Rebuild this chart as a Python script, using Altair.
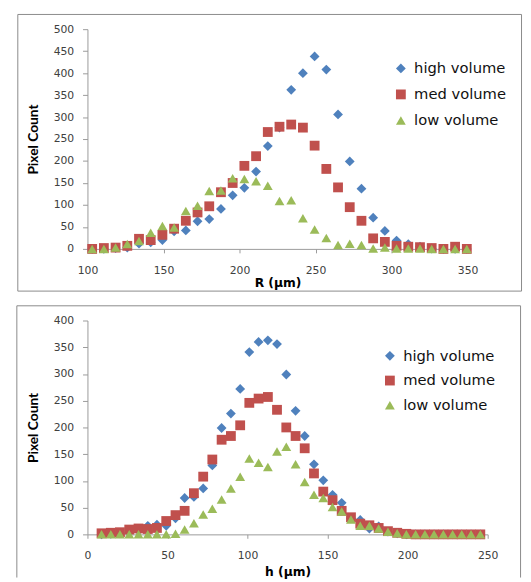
import altair as alt
import pandas as pd

SERIES = ["high volume", "med volume", "low volume"]
COLORS = ["#4F81BD", "#C0504D", "#9BBB59"]
SHAPES = ["diamond", "square", "triangle-up"]

# ---- top panel: R (µm) ----
R_UM = [103.1, 110.8, 118.5, 126.2, 133.9, 141.6, 149.3, 157.0, 164.7, 172.4, 180.1,
        187.8, 195.5, 203.2, 210.9, 218.6, 226.3, 234.0, 241.7, 249.4, 257.1, 264.8,
        272.5, 280.2, 287.9, 295.6, 303.3, 311.0, 318.7, 326.4, 334.1, 341.8, 349.5]
R_HIGH = [0, 0, 2, 3, 12, 15, 20, 40, 42, 63, 68, 91, 122, 139, 176, 234, 276, 362, 400,
          438, 408, 306, 199, 137, 71, 41, 19, 11, 5, 1, 0, 0, 0]
R_MED = [0, 2, 3, 7, 23, 20, 32, 46, 64, 83, 97, 129, 150, 189, 211, 266, 278, 283, 276,
         235, 182, 140, 95, 64, 24, 16, 7, 5, 4, 2, 0, 5, 0]
R_LOW = [0, 0, 3, 11, 18, 37, 52, 49, 86, 98, 132, 133, 161, 159, 154, 144, 109, 111, 70,
         44, 25, 9, 12, 9, 1, 3, 1, 1, 1, 0, 0, 0, 0]
R_TICKS = [100, 150, 200, 250, 300, 350]
R_COUNT_TICKS = [0, 50, 100, 150, 200, 250, 300, 350, 400, 450, 500]

# ---- bottom panel: h (µm) ----
H_UM = [8.8, 14.6, 20.3, 26.1, 31.9, 37.7, 43.4, 49.2, 55.0, 60.7, 66.5, 72.3, 78.0, 83.8,
        89.6, 95.4, 101.1, 106.9, 112.7, 118.4, 124.2, 130.0, 135.7, 141.5, 147.3, 153.1,
        158.8, 164.6, 170.4, 176.1, 181.9, 187.7, 193.5, 199.2, 205.0, 210.8, 216.5,
        222.3, 228.1, 233.8, 239.6, 245.4]
H_HIGH = [0, 1, 2, 4, 7, 16, 18, 16, 30, 68, 70, 86, 129, 199, 226, 272, 341, 360, 363,
          356, 299, 231, 184, 131, 101, 74, 59, 30, 27, 11, 15, 5, 2, 0, 0, 0, 0, 0, 0,
          0, 0, 0]
H_MED = [2, 3, 4, 9, 11, 10, 12, 25, 36, 44, 77, 108, 140, 177, 184, 204, 246, 254, 257,
         233, 200, 184, 161, 114, 80, 64, 44, 32, 20, 17, 12, 6, 3, 1, 0, 0, 0, 0, 0, 0,
         0, 0]
H_LOW = [0, 0, 0, 0, 0, 0, 0, 0, 1, 9, 21, 37, 48, 65, 86, 108, 142, 134, 126, 155, 164,
         131, 98, 74, 68, 51, 43, 28, 16, 16, 11, 5, 2, 0, 0, 0, 0, 0, 0, 0, 0, 0]
H_TICKS = [0, 50, 100, 150, 200, 250]
H_COUNT_TICKS = [0, 50, 100, 150, 200, 250, 300, 350, 400]

FONT = "DejaVu Sans"
AXIS_GRAY = "#9a9a9a"
FRAME_GRAY = "#8a8a8a"


def long_table(xs, groups):
    rows = []
    for name, ys in zip(SERIES, groups):
        for x, y in zip(xs, ys):
            rows.append({"x": x, "count": y, "series": name})
    return pd.DataFrame(rows)


def panel(df, xdom, ydom, xticks, yticks, xtitle, w, h, ytx, xty, lx, ly, rowpad, frame):
    legend = alt.Legend(
        orient="none", legendX=lx, legendY=ly, title=None, padding=0,
        labelFont=FONT, labelFontSize=15, labelColor="#111111", labelOffset=6,
        symbolSize=100, symbolStrokeWidth=0, rowPadding=rowpad,
    )
    x_axis = alt.Axis(
        values=xticks, title=xtitle, grid=False, tickSize=4, labelPadding=12,
        labelFont=FONT, labelFontSize=11, labelColor="#404040", labelFlush=False,
        domainColor=AXIS_GRAY, tickColor=AXIS_GRAY,
        titleFont=FONT, titleFontSize=12.5, titleFontWeight="bold", titleColor="#000000",
        titleX=w / 2, titleY=xty, titleAlign="center", titleBaseline="middle",
    )
    y_axis = alt.Axis(
        values=yticks, title="Pixel Count", grid=False, tickSize=5, labelPadding=9,
        labelFont=FONT, labelFontSize=11, labelColor="#404040",
        domainColor=AXIS_GRAY, tickColor=AXIS_GRAY,
        titleFont="Lato", titleFontSize=14, titleFontWeight="bold", titleColor="#000000",
        titleAngle=270, titleX=ytx, titleY=h / 2, titleAlign="center",
        titleBaseline="middle",
    )
    points = alt.Chart(df).mark_point(filled=True, opacity=1, size=100).encode(
        x=alt.X("x:Q", scale=alt.Scale(domain=xdom, nice=False, zero=False), axis=x_axis),
        y=alt.Y("count:Q", scale=alt.Scale(domain=ydom, nice=False), axis=y_axis),
        color=alt.Color("series:N", scale=alt.Scale(domain=SERIES, range=COLORS), legend=legend),
        shape=alt.Shape("series:N", scale=alt.Scale(domain=SERIES, range=SHAPES), legend=legend),
    )
    one = pd.DataFrame({"k": [0]})
    x1, x2, y1, y2, closed = frame
    if closed:
        border = alt.Chart(one).mark_rect(fillOpacity=0, stroke=FRAME_GRAY, strokeWidth=1).encode(
            x=alt.value(x1), x2=alt.value(x2), y=alt.value(y1), y2=alt.value(y2)
        )
        layers = [points, border]
    else:
        base = alt.Chart(one).mark_rule(color=FRAME_GRAY, strokeWidth=1)
        top_line = base.encode(x=alt.value(x1), x2=alt.value(x2), y=alt.value(y1))
        left_line = base.encode(x=alt.value(x1), y=alt.value(y1), y2=alt.value(y2))
        right_line = base.encode(x=alt.value(x2), y=alt.value(y1), y2=alt.value(y2))
        layers = [points, top_line, left_line, right_line]
    return alt.layer(*layers).properties(width=w, height=h)


top = panel(
    long_table(R_UM, [R_HIGH, R_MED, R_LOW]), [100, 350], [0, 500], R_TICKS, R_COUNT_TICKS,
    "R (µm)", 387.5, 224, -55.3, 34, 312, 32.5, 10.5,
    (-71, 442.5, -15, 267, True),
)
bottom = panel(
    long_table(H_UM, [H_HIGH, H_MED, H_LOW]), [0, 250], [0, 400], H_TICKS, H_COUNT_TICKS,
    "h (µm)", 408, 218, -54.6, 38, 300.8, 28.5, 9.2,
    (-72, 441.5, -15, 262, False),
)

chart = (
    alt.vconcat(top, bottom, spacing=13)
    .resolve_scale(color="independent", shape="independent")
    .resolve_legend(color="independent", shape="independent")
    .properties(padding={"left": 8, "top": 0, "right": 0, "bottom": 0}, background="white")
    .configure_view(stroke="transparent")
)

chart.save("out.html", embed_options={"renderer": "svg", "actions": False})
